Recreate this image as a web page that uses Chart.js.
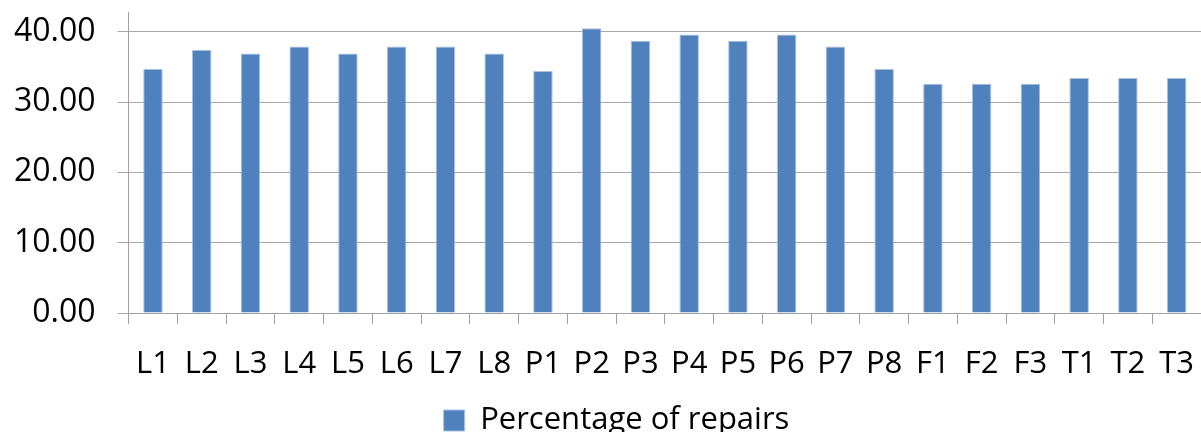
<!DOCTYPE html>
<html>
<head>
<meta charset="utf-8">
<script src="https://cdn.jsdelivr.net/npm/chart.js@4"></script>
<style>
  html, body { margin: 0; padding: 0; background: #ffffff; }
  #wrap { width: 1201px; height: 432px; position: relative; }
</style>
</head>
<body>
<div id="wrap"><canvas id="myChart"></canvas></div>
<script>
const categories = ["L1", "L2", "L3", "L4", "L5", "L6", "L7", "L8",
    "P1", "P2", "P3", "P4", "P5", "P6", "P7", "P8",
    "F1", "F2", "F3", "T1", "T2", "T3"];
const repairs = [34.7, 37.4, 36.9, 37.9, 36.9, 37.9, 37.9, 36.9,
    34.4, 40.5, 38.7, 39.6, 38.7, 39.6, 37.9, 34.7,
    32.6, 32.6, 32.6, 33.4, 33.4, 33.4];
const seriesName = "Percentage of repairs";
const yTicks = [0, 10, 20, 30, 40];

const font = "'Open Sans', sans-serif";

// legend box is taller than needed: trim it so it sits near the bottom,
// and nudge it a bit to the right like in the original
const legendTrim = {
    id: "legendTrim",
    beforeInit(chart) {
        const legend = chart.legend;
        if (!legend) return;
        const fit = legend.fit.bind(legend);
        legend.fit = function () {
            fit();
            this.height -= 14;
        };
    },
    afterLayout(chart) {
        if (!chart.legend) return;
        chart.legend.left += 20;
        chart.legend.right += 20;
    }
};

const data = {
    labels: categories,
    datasets: [{
        label: seriesName,
        data: repairs,
        backgroundColor: "#4F81BD",
        borderColor: "#A9C0DF",
        borderWidth: 1,
        barPercentage: 0.4,
        categoryPercentage: 1.0
    }]
};

const config = {
    type: "bar",
    data: data,
    plugins: [legendTrim],
    options: {
        responsive: true,
        maintainAspectRatio: false,
        animation: false,
        layout: { padding: { left: -8, right: 0, top: 12, bottom: 0 } },
        plugins: {
            legend: {
                display: true,
                position: "bottom",
                labels: {
                    boxWidth: 21,
                    boxHeight: 21,
                    color: "#000",
                    font: { family: font, size: 31, lineHeight: 1.0 },
                    padding: 0
                }
            },
            tooltip: { enabled: false }
        },
        scales: {
            x: {
                grid: {
                    drawOnChartArea: false,
                    drawTicks: true,
                    tickLength: 11,
                    color: "#A0A0A0",
                    offset: true
                },
                border: { color: "#A0A0A0" },
                ticks: {
                    color: "#000",
                    font: { family: font, size: 31, lineHeight: 2.87 },
                    padding: -4,
                    maxRotation: 0,
                    autoSkip: false
                }
            },
            y: {
                min: 0,
                max: 42.8,
                afterBuildTicks: scale => {
                    scale.ticks = yTicks.map(v => ({ value: v }));
                },
                afterFit: scale => {
                    scale.paddingTop = 0;
                    scale.paddingBottom = 0;
                },
                grid: {
                    color: "#A8A8A8",
                    tickLength: 11
                },
                border: { color: "#A0A0A0" },
                ticks: {
                    color: "#000",
                    font: { family: font, size: 32 },
                    padding: 22,
                    callback: v => Number(v).toFixed(2)
                }
            }
        }
    }
};

const myChart = new Chart(document.getElementById("myChart"), config);
</script>
</body>
</html>
